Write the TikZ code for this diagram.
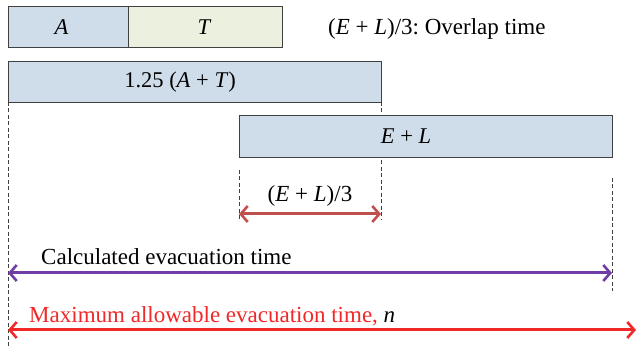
\documentclass[tikz,border=0pt]{standalone}
\usepackage{fontspec}
\setmainfont{Liberation Serif}
\frenchspacing
\usetikzlibrary{arrows.meta}
\definecolor{boxblue}{RGB}{207,220,234}
\definecolor{boxgreen}{RGB}{235,241,222}
\definecolor{edgegray}{RGB}{64,64,64}
\definecolor{arrbrown}{RGB}{192,80,77}
\definecolor{arrpurple}{RGB}{112,60,165}
\definecolor{arrred}{RGB}{240,40,40}
\tikzset{
  bar/.style={draw=edgegray, line width=1.1pt, anchor=north west, inner sep=0pt},
  guide/.style={draw=edgegray, line width=1pt, dash pattern=on 4pt off 2.5pt},
  span/.style={line width=3pt, {Straight Barb[length=7pt,width=16pt,line width=2.6pt]}-{Straight Barb[length=7pt,width=16pt,line width=2.6pt]}},
  lbl/.style={font=\fontsize{23}{27}\selectfont, inner sep=0pt},
  barlbl/.style={font=\fontsize{22.5}{27}\selectfont, inner sep=0pt},
}
\begin{document}
\begin{tikzpicture}[x=1pt, y=-1pt]
\useasboundingbox (0,0) rectangle (638,347);

% guide coordinates
\coordinate (g0) at (8,347);
\coordinate (g1top) at (381,102);
\coordinate (g1bot) at (381,220);
\coordinate (g2top) at (239,170);
\coordinate (g2bot) at (239,220);
\coordinate (g3top) at (612,178);
\coordinate (g3bot) at (612,291);

% vertical dashed guides
\draw[guide] (8,102) -- (g0);
\draw[guide] (g1top) -- (g1bot);
\draw[guide] (g2top) -- (g2bot);
\draw[guide] (g3top) -- (g3bot);

% time bars
\node[bar, fill=boxblue, minimum width=120pt, minimum height=41pt] (a) at (8,6) {};
\node[bar, fill=boxgreen, minimum width=154pt, minimum height=41pt] (t) at (128,6) {};
\node[bar, fill=boxblue, minimum width=373pt, minimum height=41pt] (b) at (8,61) {};
\node[bar, fill=boxblue, minimum width=373pt, minimum height=42pt] (el) at (239,115) {};

% bar labels
\node[barlbl, xshift=-7pt] (at) at (a.center) {\textit{A}};
\node[barlbl, xshift=-1pt] (tt) at (t.center) {\textit{T}};
\node[barlbl, xshift=-15pt] (bt) at (b.center) {1.25 (\textit{A} + \textit{T})};
\node[barlbl, xshift=-20pt] (elt) at (el.center) {\textit{E} + \textit{L}};

\node[lbl, anchor=west] (ov) at (328,29) {(\textit{E} + \textit{L})/3: Overlap time};

% spans
\coordinate (s1l) at (239,214);
\coordinate (s1r) at (381,214);
\draw[span, arrbrown] (s1l) -- (s1r);
\node[lbl] (s1t) at (310,196) {(\textit{E} + \textit{L})/3};

\coordinate (s2l) at (8,273);
\coordinate (s2r) at (612,273);
\draw[span, arrpurple] (s2l) -- (s2r);
\node[lbl, anchor=west] (s2t) at (41,257) {Calculated evacuation time};

\coordinate (s3l) at (8,330);
\coordinate (s3r) at (636,330);
\draw[span, arrred] (s3l) -- (s3r);
\node[lbl, anchor=west, text=arrred] (s3t) at (29,316) {Maximum allowable evacuation time, \textcolor{black}{\textit{n}}};
\end{tikzpicture}
\end{document}
